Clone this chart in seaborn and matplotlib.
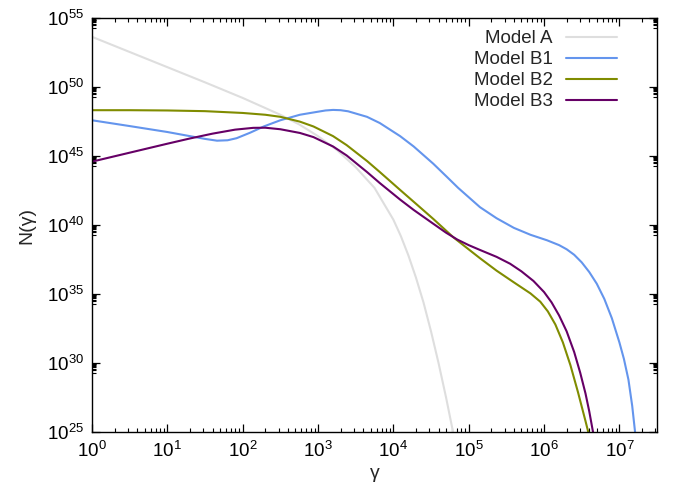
import numpy as np
import pandas as pd
import matplotlib
matplotlib.use("Agg")
import matplotlib.pyplot as plt
import matplotlib.ticker as mticker
import seaborn as sns

# values, as log10(gamma), log10(N)
a_lg = [0, 0.5, 1.0, 1.5, 2.0, 2.5, 2.75, 3.0, 3.25, 3.5, 3.75, 4.0, 4.1, 4.2, 4.3, 4.4, 4.5, 4.6, 4.7, 4.8]
a_ln = [53.65, 52.55, 51.45, 50.35, 49.22, 48.0, 47.3, 46.45, 45.45, 44.2, 42.7, 40.4, 39.2, 37.8, 36.2, 34.4,
        32.3, 30.0, 27.5, 24.8]

b1_lg = [0, 0.5, 1.0, 1.3, 1.5, 1.66, 1.8, 1.92, 2.1, 2.28, 2.5, 2.76, 3.0, 3.1, 3.2, 3.3, 3.4, 3.65, 3.82, 4.09,
         4.27, 4.53, 4.71, 4.86, 5.15, 5.37, 5.6, 5.82, 6.04, 6.2, 6.3, 6.4, 6.5, 6.6, 6.7, 6.8, 6.9, 7.0, 7.06,
         7.12, 7.17, 7.21]
b1_ln = [47.6, 47.18, 46.75, 46.45, 46.25, 46.12, 46.15, 46.3, 46.7, 47.15, 47.6, 48.0, 48.22, 48.31, 48.35,
         48.33, 48.25, 47.85, 47.4, 46.45, 45.7, 44.45, 43.5, 42.7, 41.3, 40.5, 39.8, 39.3, 38.9, 38.55, 38.25,
         37.85, 37.3, 36.6, 35.75, 34.65, 33.25, 31.5, 30.3, 28.8, 26.9, 24.9]

b2_lg = [0, 0.5, 1.0, 1.5, 2.0, 2.3, 2.5, 2.76, 2.94, 3.2, 3.38, 3.65, 3.82, 4.09, 4.3, 4.53, 4.8, 5.15, 5.37,
         5.6, 5.82, 5.95, 6.05, 6.15, 6.25, 6.35, 6.45, 6.55, 6.61]
b2_ln = [48.33, 48.33, 48.31, 48.26, 48.13, 48.0, 47.85, 47.5, 47.15, 46.45, 45.8, 44.65, 43.85, 42.55, 41.55,
         40.45, 39.1, 37.6, 36.7, 35.85, 35.05, 34.45, 33.75, 32.8, 31.5, 29.85, 27.9, 25.8, 24.5]

b3_lg = [0, 0.5, 1.0, 1.3, 1.6, 1.9, 2.14, 2.3, 2.5, 2.76, 2.94, 3.2, 3.38, 3.65, 3.82, 4.09, 4.27, 4.53, 4.7,
         4.85, 5.0, 5.15, 5.37, 5.55, 5.7, 5.86, 6.0, 6.1, 6.2, 6.3, 6.4, 6.48, 6.55, 6.6, 6.65, 6.67]
b3_ln = [44.6, 45.25, 45.9, 46.28, 46.63, 46.92, 47.05, 47.06, 46.95, 46.68, 46.38, 45.7, 45.05, 43.85, 43.05,
         41.85, 41.1, 40.1, 39.45, 38.95, 38.55, 38.2, 37.7, 37.2, 36.65, 35.95, 35.15, 34.4, 33.45, 32.3,
         30.8, 29.3, 27.8, 26.5, 25.0, 24.5]

models = ["Model A", "Model B1", "Model B2", "Model B3"]
colors = ["#dedede", "#6495ed", "#808c00", "#660066"]

frames = []
for name, lg, ln in zip(models, [a_lg, b1_lg, b2_lg, b3_lg], [a_ln, b1_ln, b2_ln, b3_ln]):
    frames.append(pd.DataFrame({"gamma": 10.0 ** np.array(lg), "N": 10.0 ** np.array(ln), "model": name}))
df = pd.concat(frames, ignore_index=True)

sns.set_style("ticks")
plt.rcParams["font.family"] = ["Liberation Sans", "DejaVu Sans"]
plt.rcParams["mathtext.fontset"] = "custom"
plt.rcParams["mathtext.rm"] = "Liberation Sans"
plt.rcParams["mathtext.it"] = "Liberation Sans:italic"

fig = plt.figure(figsize=(6.76, 4.91), dpi=100)
ax = fig.add_axes([0.136, 0.12, 0.836, 0.843])

sns.lineplot(data=df, x="gamma", y="N", hue="model", palette=dict(zip(models, colors)),
             sort=True, estimator=None, lw=1.5, ax=ax)
ax.set_xscale("log")
ax.set_yscale("log")
ax.set_xlim(1, 10 ** 7.5)
ax.set_ylim(1e25, 1e55)

# ticks only inside the visible range
ax.xaxis.set_major_locator(mticker.FixedLocator([10.0 ** k for k in range(0, 8)]))
ax.xaxis.set_minor_locator(mticker.FixedLocator([m * 10.0 ** k for k in range(0, 8) for m in range(2, 10)
                                                 if m * 10.0 ** k < 10 ** 7.5]))
ax.xaxis.set_major_formatter(mticker.LogFormatterSciNotation())
ax.xaxis.set_minor_formatter(mticker.NullFormatter())
ax.yaxis.set_major_locator(mticker.FixedLocator([10.0 ** k for k in range(25, 56, 5)]))
ax.yaxis.set_minor_locator(mticker.FixedLocator([m * 10.0 ** (k - 1) for k in range(30, 56, 5) for m in range(2, 10)]))
ax.yaxis.set_major_formatter(mticker.LogFormatterSciNotation())
ax.yaxis.set_minor_formatter(mticker.NullFormatter())

ax.tick_params(which="both", direction="in", top=True, right=True, labelsize=13.5, colors="black")
ax.tick_params(which="major", length=6, width=0.9, pad=6)
ax.tick_params(which="minor", length=3, width=0.8)
for s in ax.spines.values():
    s.set_linewidth(1.0)
    s.set_color("black")

ax.set_xlabel("γ", fontsize=14, labelpad=3)
ax.set_ylabel("N(γ)", fontsize=14, labelpad=8)

# markerfirst=False right-aligns rows, so the labels end at the same x like the gnuplot key
ax.legend(loc="upper right", bbox_to_anchor=(0.95, 1.0), frameon=False, markerfirst=False,
          fontsize=13.5, handlelength=2.7, handletextpad=0.7, labelspacing=0.2, borderaxespad=0.25)

fig.savefig("out.png", dpi=100)
